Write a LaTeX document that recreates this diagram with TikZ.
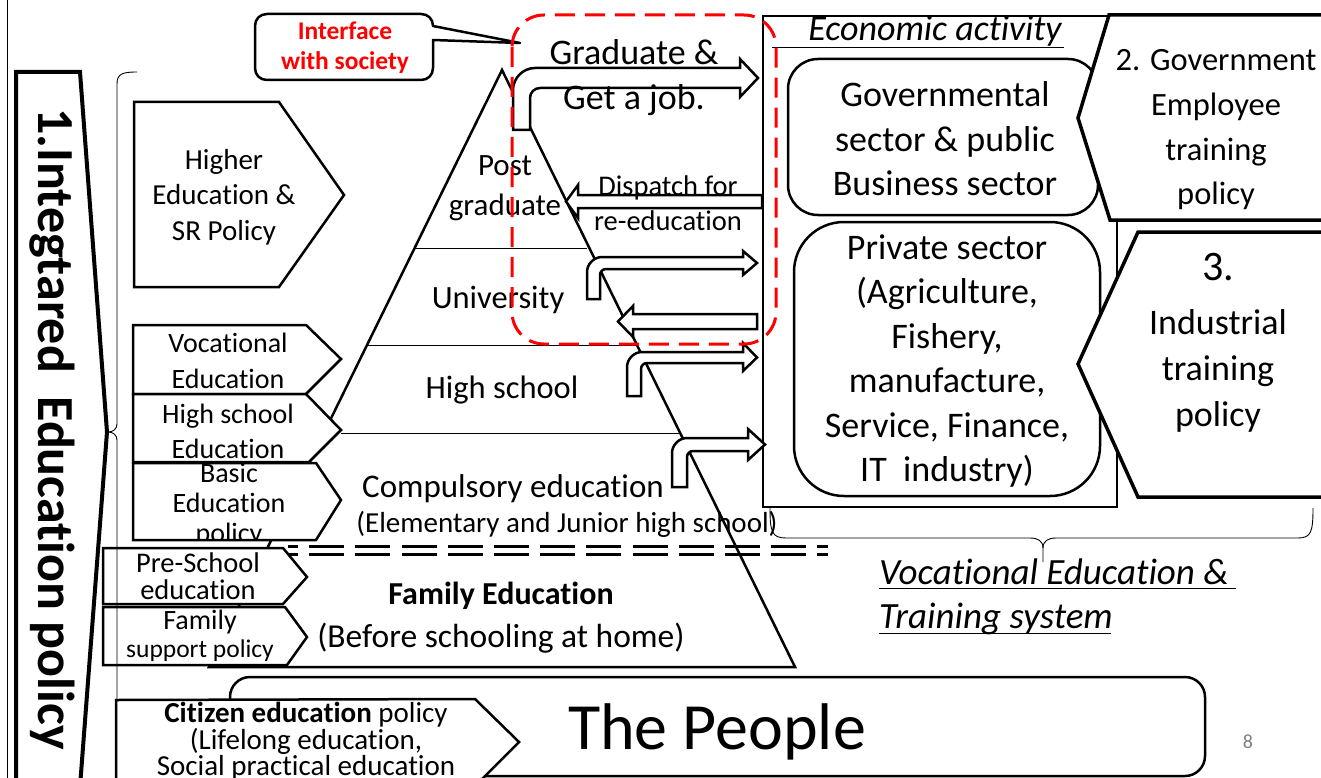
\documentclass[tikz,border=0pt]{standalone}
\usepackage{fontspec}
\setmainfont{Carlito}[Ligatures=NoCommon]
\newcommand\fsz[2]{\fontsize{#1}{#2}\selectfont}
\begin{document}
\begin{tikzpicture}[x=1pt,y=-1pt,
  bold line/.style={draw=black, line width=2.5pt, line join=miter, fill=white},
  pent/.style={bold line},
  fatpent/.style={bold line, line width=3.5pt},
  barrow/.style={bold line},
  txt/.style={inner sep=0pt, align=center, text=black},
  thinline/.style={draw=black, line width=0.9pt},
  dbl/.style={draw=black, line width=3pt, dash pattern=on 35pt off 11.2pt, dash phase=25pt}
]
\useasboundingbox (0,0) rectangle (1321,778);
\fill[white] (0,0) rectangle (1321,778);

% left frame
\draw[thinline] (7,0) -- (7,800);
\draw[bold line, line width=4pt] (16,72) -- (80,72) -- (107,432) -- (79,800) -- (16,800) -- cycle;
\node[txt, rotate=-90, font=\bfseries\fsz{52}{52}] (integ) at (52,429) {1.Integtared\ \ Education policy};

% callout
\draw[bold line, line join=round] (267,14) -- (421,14) .. controls (428,14) and (433,19) .. (433,26) -- (520,43) -- (433,40) -- (433,68) .. controls (433,75) and (428,80) .. (421,80) -- (267,80) .. controls (260,80) and (255,75) .. (255,68) -- (255,26) .. controls (255,19) and (260,14) .. (267,14) -- cycle;
\node[txt, text=red, font=\bfseries\fsz{25.5}{30}] (iface) at (345,48) {Interface\\with society};

% pyramid
\draw[bold line] (502,70) -- (795,667) -- (209,667) -- cycle;
\draw[thinline] (414,248) -- (587,248);
\draw[thinline] (367,345) -- (637,345);
\draw[thinline] (341,433) -- (679,433);
\draw[dbl] (288,546) -- (828,546);
\draw[dbl] (288,554) -- (828,554);

% left policy boxes
\draw[pent] (134,102) -- (279,102) -- (344,195) -- (279,287) -- (134,287) -- cycle;
\node[txt, font=\fsz{29}{35.5}] (higher) at (224,197) {Higher\\Education \&\\SR Policy};
\draw[pent] (133,325) -- (306,325) -- (341,359) -- (306,394) -- (133,394) -- cycle;
\node[txt, font=\fsz{28}{36}] (voc) at (228,361) {Vocational\\Education};
\draw[pent] (133,394) -- (306,394) -- (341,430) -- (309,462) -- (133,462) -- cycle;
\node[txt, font=\fsz{28}{35}] (hsed) at (228,431) {High school\\Education};
\draw[pent] (133,463) -- (316,463) -- (341,500) -- (316,540) -- (133,540) -- cycle;
\begin{scope}
\clip (133,463) -- (316,463) -- (341,500) -- (316,540) -- (133,540) -- cycle;
\node[txt, font=\fsz{28}{30}] (basic) at (229,505) {Basic\\Education\\policy};
\end{scope}
\draw[pent] (103,548) -- (283,548) -- (307,577) -- (283,604) -- (103,604) -- cycle;
\node[txt, font=\fsz{28.5}{27}] (pre) at (198,576) {Pre-School\\education};
\draw[pent] (103,607) -- (285,607) -- (307,637) -- (287,665) -- (103,665) -- cycle;
\node[txt, font=\fsz{28}{28}] (fam) at (200,636) {Family\\{\fsz{25.5}{28}support policy}};

% left brace
\draw[thinline] (137,72) .. controls (122,72) and (117,74) .. (117,84) -- (117,424) .. controls (117,429) and (113,432) .. (108,432) .. controls (113,432) and (117,435) .. (117,440) -- (117,800);

% economic activity
\draw[draw=black, line width=2.5pt] (763,16) rectangle (1117,507);
\node[txt, font=\itshape\fsz{36}{40}] (econ) at (935,31) {Economic activity};
\draw[thinline] (772,47) -- (1064,47);
\draw[bold line, rounded corners=30pt] (788,59) rectangle (1098,215);
\node[txt, font=\fsz{36}{44.5}] (govsec) at (945,139) {Governmental\\sector \& public\\Business sector};
\draw[bold line, rounded corners=50pt] (794,222) rectangle (1100,496);
\node[txt, font=\fsz{36}{44.4}] (priv) at (947,361) {Private sector\\(Agriculture,\\Fishery,\\manufacture,\\Service, Finance,\\IT\ \ industry)};
\draw[fatpent] (1109,15) -- (1340,15) -- (1340,220) -- (1110,220) -- (1078,118) -- cycle;
\node[txt, font=\fsz{32.5}{44.7}] (govpol) at (1216,130) {2. Government\\Employee\\training\\policy};
\draw[fatpent] (1138,232) -- (1340,232) -- (1340,497) -- (1138,497) -- (1078,364) -- cycle;
\node[txt, font=\fsz{42}{42}] (ind3) at (1218,267) {3.};
\node[txt, font=\fsz{36}{46}] (indtxt) at (1218,371) {Industrial\\training\\policy};

% block arrows
\draw[barrow] (513,130) -- (513,90) .. controls (513,78) and (523,68) .. (535,68) -- (740,68) -- (740,59) -- (758,78) -- (740,97) -- (740,88) -- (540,88) .. controls (534.5,88) and (530,92.5) .. (530,98) -- (530,130) -- cycle;
\draw[barrow] (587,299) -- (587,272) .. controls (587,264) and (594,257) .. (602,257) -- (743,257) -- (743,251) -- (757,263) -- (743,275) -- (743,269) -- (606,269) .. controls (602.7,269) and (600,271.7) .. (600,275) -- (600,299) -- cycle;
\draw[barrow] (627,396) -- (627,367) .. controls (627,359) and (634,352) .. (642,352) -- (743,352) -- (743,343) -- (757,357.5) -- (743,371) -- (743,363) -- (647,363) .. controls (643.7,363) and (641,365.7) .. (641,369) -- (641,396) -- cycle;
\draw[barrow] (672,487) -- (672,453) .. controls (672,445) and (679,438) .. (687,438) -- (748,438) -- (748,429) -- (765,444.5) -- (748,460) -- (748,451) -- (693,451) .. controls (689.7,451) and (687,453.7) .. (687,457) -- (687,487) -- cycle;
\draw[barrow] (762,208) -- (578,208) -- (578,218) -- (566,201.5) -- (578,185) -- (578,195) -- (762,195) -- cycle;
\draw[barrow] (757,329) -- (633,329) -- (633,337) -- (618,321.5) -- (633,306) -- (633,314) -- (757,314) -- cycle;

\node[txt, font=\fsz{36}{45}] (grad) at (634,78) {Graduate \&\\Get a job.};
\node[txt, font=\fsz{28.5}{35}] (disp) at (668,203) {Dispatch for\\re-education};

% pyramid texts
\node[txt, font=\fsz{31}{40}] (postg) at (505,188) {Post\\graduate};
\node[txt, font=\fsz{32.5}{38}] (univ) at (498,300) {University};
\node[txt, font=\fsz{32.5}{38}] (hschool) at (502,390) {High school};
\node[txt, font=\fsz{33}{38}] (comp) at (513,489) {Compulsory education};
\node[txt, font=\fsz{29}{34}] (elem) at (567,524) {(Elementary and Junior high school)};
\node[txt, font=\bfseries\fsz{32}{34}] (famed) at (501,596) {Family Education};
\node[txt, font=\fsz{33.5}{36}] (before) at (501,638) {(Before schooling at home)};

% the people
\draw[bold line, rounded corners=20pt] (230,677) rectangle (1205,776);
\node[txt, font=\fsz{66}{70}] (people) at (717,732) {The People};
\draw[pent] (116,700) -- (475,699) -- (519,742) -- (475,786) -- (116,786) -- cycle;
\node[txt, font=\fsz{29}{25}] (cit) at (306,741) {{\bfseries Citizen education} policy\\(Lifelong education,\\Social practical education};

% vocational education & training system
\draw[thinline] (770,508) .. controls (770,532) and (772,538) .. (786,538) -- (1030,538) .. controls (1038,538) and (1043,541) .. (1043,548) -- (1043,562);
\draw[thinline] (1043,548) .. controls (1043,541) and (1048,538) .. (1056,538) -- (1298,538) .. controls (1311,538) and (1313,532) .. (1313,508);
\node[txt, anchor=base west, font=\itshape\fsz{37}{44}] (vet1) at (879,584) {Vocational Education \&};
\node[txt, anchor=base west, font=\itshape\fsz{37}{44}] (vet2) at (879,628) {Training system};
\draw[thinline] (879,588) -- (1236,588);
\draw[thinline] (879,633) -- (1111,633);

% interface dashed region
\draw[red, line width=3pt, dash pattern=on 20pt off 10pt, rounded corners=32pt] (512,15) rectangle (776,344);

\node[txt, text=gray, font=\fsz{20}{24}] (pnum) at (1248,742) {8};
\end{tikzpicture}
\end{document}
